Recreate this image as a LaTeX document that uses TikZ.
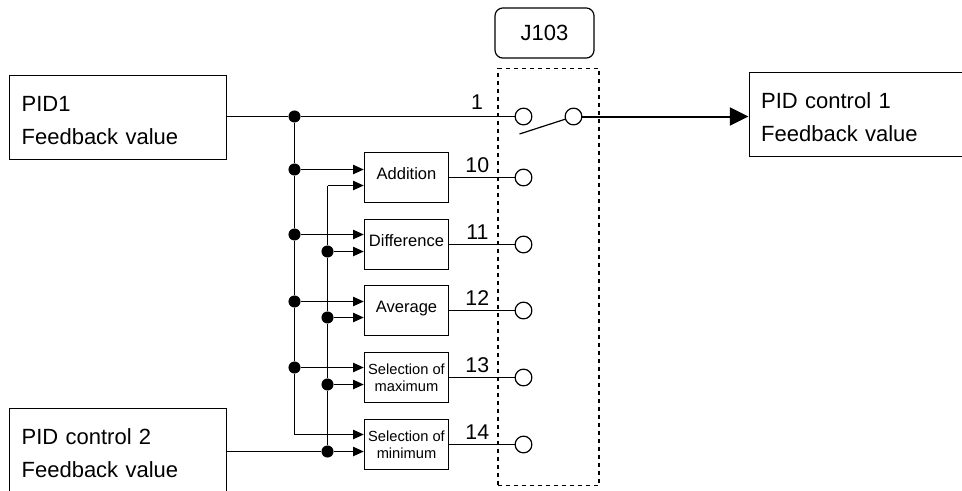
\documentclass[tikz,border=0pt]{standalone}
\usepackage{fontspec}
\setmainfont{Liberation Sans}
\usetikzlibrary{arrows.meta}

\begin{document}
\begin{tikzpicture}[
  x=0.75pt, y=-0.75pt,
  line width=0.9pt,
  every node/.style={font=\fontsize{16}{18}\selectfont, inner sep=0pt},
  iobox/.style={draw, minimum width=162bp, minimum height=62.5bp, align=left, text width=144bp,
                font=\fontsize{16.5}{25}\selectfont,
                execute at begin node={\rule{0pt}{16bp}}},
  funcbox/.style={draw, minimum width=63bp, minimum height=37.5bp, align=center,
                  text depth=5.5bp, font=\fontsize{12.4}{15}\selectfont},
  selbox/.style={draw, minimum width=63bp, minimum height=37.5bp, align=center,
                 font=\fontsize{11}{12.6}\selectfont},
  term/.style={draw, circle, fill=white, minimum size=12.5bp},
  dot/.style={fill, circle, minimum size=9bp},
  flow/.style={-{Triangle[length=8bp, width=7bp]}},
  mainflow/.style={-{Triangle[length=14bp, width=13.5bp]}, line width=1.5pt}
]
\useasboundingbox (0,0) rectangle (962,490);

\node[iobox] (pidone) at (118,117.5) {PID1\\Feedback value};
\node[iobox] (pidout) at (857.5,114.5) {PID control 1\\Feedback value};
\node[iobox] (pidtwo) at (118,450.5) {PID control 2\\Feedback value};

\node[funcbox] (add) at (406.5,177.5) {Addition};
\node[funcbox] (diff) at (406.5,244.5) {Difference};
\node[funcbox] (avg) at (406.5,310.5) {Average};
\node[selbox] (max) at (406.5,377.5) {Selection of\\maximum};
\node[selbox] (min) at (406.5,444.5) {Selection of\\minimum};

\node[draw, dashed, minimum width=75.5bp, minimum height=312bp] (frame) at (548.5,277) {};
\node[draw, rounded corners=6bp, minimum width=74bp, minimum height=37.5bp,
      font=\fontsize{16.5}{20}\selectfont] (sel) at (544.5,33) {J103};

\node[term] (tone) at (523.5,116.5) {};
\node[term] (tout) at (573.5,116.5) {};
\node[term] (tadd) at (523.5,177.5) {};
\node[term] (tdiff) at (523.5,244.5) {};
\node[term] (tavg) at (523.5,310.5) {};
\node[term] (tmax) at (523.5,377.5) {};
\node[term] (tmin) at (523.5,444.5) {};
\coordinate (arm) at (519.5,134);

\node[dot] (j1) at (294.5,116.5) {};
\node[dot] (j2) at (294.5,169.5) {};
\node[dot] (j3) at (294.5,234.5) {};
\node[dot] (j4) at (294.5,301.5) {};
\node[dot] (j5) at (294.5,367.5) {};
\coordinate (c6) at (294.5,434.5);
\coordinate (c0) at (327.5,185.5);
\node[dot] (k1) at (327.5,251.5) {};
\node[dot] (k2) at (327.5,317.5) {};
\node[dot] (k3) at (327.5,384.5) {};
\node[dot] (k4) at (327.5,451.5) {};

\draw (pidone.east |- j1) -- (j1) -- (tone);
\draw (j1) -- (j2) -- (j3) -- (j4) -- (j5) -- (c6);
\draw (c0) -- (k1) -- (k2) -- (k3) -- (k4);
\draw (pidtwo.east |- k4) -- (k4);

\draw[flow] (j2) -- (add.west |- j2);
\draw[flow] (c0) -- (add.west |- c0);
\draw[flow] (j3) -- (diff.west |- j3);
\draw[flow] (k1) -- (diff.west |- k1);
\draw[flow] (j4) -- (avg.west |- j4);
\draw[flow] (k2) -- (avg.west |- k2);
\draw[flow] (j5) -- (max.west |- j5);
\draw[flow] (k3) -- (max.west |- k3);
\draw[flow] (c6) -- (min.west |- c6);
\draw[flow] (k4) -- (min.west |- k4);

\draw (add.east) -- node[above=3bp, pos=0.43] (ladd) {10} (tadd);
\draw (diff.east) -- node[above=3bp, pos=0.43] (ldiff) {11} (tdiff);
\draw (avg.east) -- node[above=3bp, pos=0.43] (lavg) {12} (tavg);
\draw (max.east) -- node[above=3bp, pos=0.43] (lmax) {13} (tmax);
\draw (min.east) -- node[above=3bp, pos=0.43] (lmin) {14} (tmin);
\node (lone) at (477,102) {1};

\draw (arm) -- (tout);
\draw[mainflow] (tout) -- (pidout.west |- tout);

\end{tikzpicture}
\end{document}
